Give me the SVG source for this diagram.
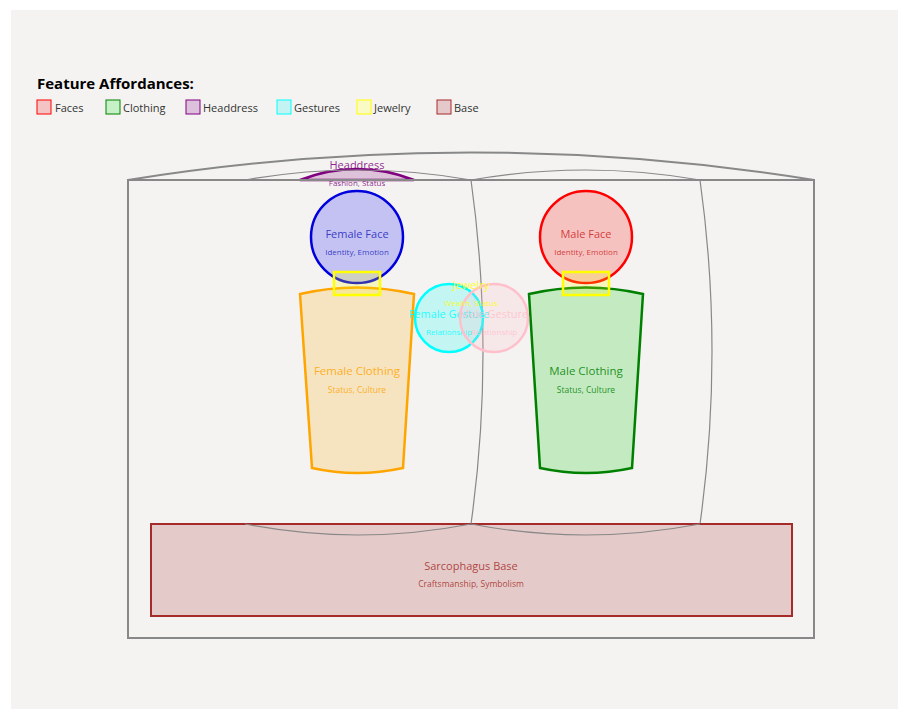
<svg xmlns="http://www.w3.org/2000/svg" width="898" height="709" viewBox="0 0 898 709">
<style>
text{font-family:"Open Sans","Noto Sans","Liberation Sans",sans-serif;text-anchor:middle}
.t{font-size:11px;fill-opacity:0.85}
.s{font-size:8px;fill-opacity:0.85}
.lg{font-size:11px;text-anchor:start;fill:#333}
.frame{fill:none;stroke:#888;stroke-width:2}
.thin{fill:none;stroke:#888;stroke-width:1.2}
</style>
<rect x="0" y="0" width="898" height="709" fill="#fff"/>
<rect x="11" y="10" width="887" height="699" fill="#f4f3f1"/>
<g id="legend">
<text x="37" y="89" style="font-size:15px;font-weight:bold;text-anchor:start;fill:#000">Feature Affordances:</text>
<rect x="37" y="100" width="14" height="14" fill="#f4c4c4" stroke="red"/><text class="lg" x="55" y="112">Faces</text>
<rect x="106" y="100" width="14" height="14" fill="#c6f0c6" stroke="green"/><text class="lg" x="123" y="112">Clothing</text>
<rect x="186" y="100" width="14" height="14" fill="#dcc0dc" stroke="purple"/><text class="lg" x="203" y="112">Headdress</text>
<rect x="277" y="100" width="14" height="14" fill="#c4f3f3" stroke="cyan"/><text class="lg" x="294" y="112">Gestures</text>
<rect x="357" y="100" width="14" height="14" fill="#fafac4" stroke="yellow"/><text class="lg" x="374" y="112">Jewelry</text>
<rect x="437" y="100" width="14" height="14" fill="#e5c8ca" stroke="#a52a2a"/><text class="lg" x="454" y="112">Base</text>
</g>
<g id="headdress">
<path d="M300,180 Q357,158 414,180 Z" fill="rgba(128,0,128,0.2)" stroke="purple" stroke-width="2.5"/>
<text class="t" x="357" y="169" fill="purple">Headdress</text>
<text class="s" x="357" y="186" fill="purple">Fashion, Status</text>
</g>
<g id="sarcophagus">
<rect x="128" y="180" width="686" height="458" class="frame"/>
<path d="M128,180 Q471,125 814,180" class="frame"/>
</g>
<g id="connectors">
<path d="M245,180 Q358,160 471,180 Q585,160 700,180" class="thin"/>
<path d="M471,180 Q495,352 471,524" class="thin"/>
<path d="M700,180 Q724,352 700,524" class="thin"/>
</g>
<g id="base">
<rect x="151" y="524" width="641" height="92" fill="rgba(165,42,42,0.2)" stroke="#a52a2a" stroke-width="2"/>
<path d="M245,524 Q358,546 471,524 Q585,546 700,524" class="thin"/>
<text class="t" x="471" y="570" fill="#a52a2a">Sarcophagus Base</text>
<text class="s" x="471" y="587" fill="#a52a2a" style="font-size:8.5px">Craftsmanship, Symbolism</text>
</g>
<g id="female-face">
<circle cx="357" cy="237" r="46" fill="rgba(0,0,255,0.2)" stroke="#0000dd" stroke-width="2.5"/>
<text class="t" x="357" y="238" fill="#2222bb">Female Face</text>
<text class="s" x="357" y="255" fill="#2222bb">Identity, Emotion</text>
</g>
<g id="male-face">
<circle cx="586" cy="237" r="46" fill="rgba(255,0,0,0.2)" stroke="red" stroke-width="2.5"/>
<text class="t" x="586" y="238" fill="#cc2222">Male Face</text>
<text class="s" x="586" y="255" fill="#cc2222">Identity, Emotion</text>
</g>
<g id="female-clothing">
<path d="M300,294 Q357,281 414,294 L403,468 Q357,478 312,468 Z" fill="rgba(255,165,0,0.2)" stroke="orange" stroke-width="2.5"/>
<text class="t" x="357" y="375" fill="orange" style="font-size:11.5px">Female Clothing</text>
<text class="s" x="357" y="393" fill="orange" style="font-size:8.5px">Status, Culture</text>
</g>
<g id="male-clothing">
<path d="M529,294 Q586,281 643,294 L632,468 Q586,478 540,468 Z" fill="rgba(0,200,0,0.2)" stroke="green" stroke-width="2.5"/>
<text class="t" x="586" y="375" fill="green" style="font-size:11.5px">Male Clothing</text>
<text class="s" x="586" y="393" fill="green" style="font-size:8.5px">Status, Culture</text>
</g>
<g id="female-jewelry">
<rect x="334" y="272" width="46" height="23" fill="rgba(255,255,0,0.2)" stroke="yellow" stroke-width="2.5"/>
</g>
<g id="male-jewelry">
<rect x="563" y="272" width="46" height="23" fill="rgba(255,255,0,0.2)" stroke="yellow" stroke-width="2.5"/>
</g>
<g id="female-gesture">
<circle cx="449" cy="318" r="34" fill="rgba(0,255,255,0.2)" stroke="cyan" stroke-width="2.5"/>
<text class="t" x="449" y="318" fill="cyan">Female Gesture</text>
<text class="s" x="449" y="335" fill="cyan">Relationship</text>
</g>
<g id="male-gesture">
<circle cx="494" cy="318" r="34" fill="rgba(255,192,203,0.2)" stroke="pink" stroke-width="2.5"/>
<text class="t" x="494" y="318" fill="pink">Male Gesture</text>
<text class="s" x="494" y="335" fill="pink">Relationship</text>
</g>
<g id="jewelry-label">
<text class="t" x="471" y="289" fill="yellow">Jewelry</text>
<text class="s" x="471" y="306" fill="yellow">Wealth, Status</text>
</g>
</svg>
